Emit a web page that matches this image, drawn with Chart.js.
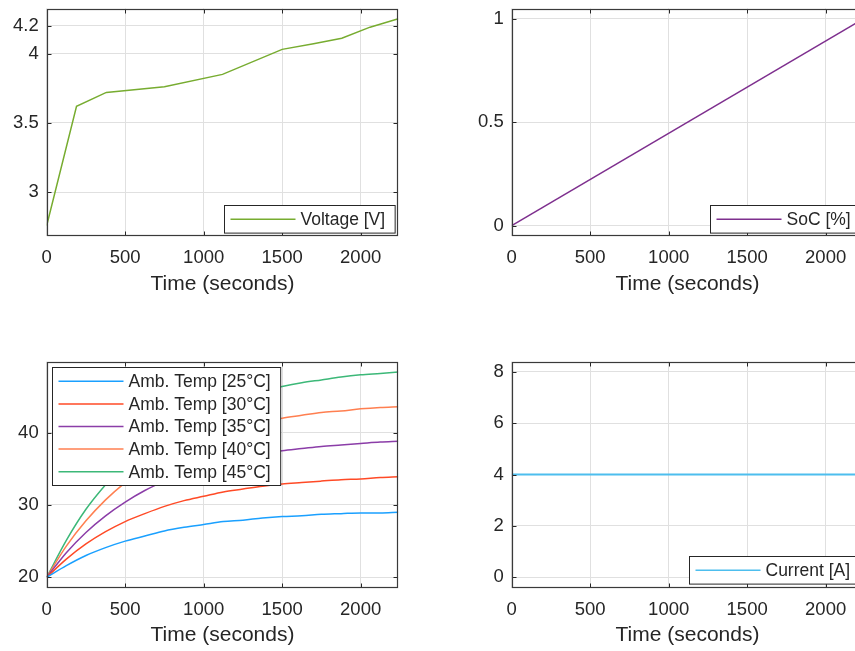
<!DOCTYPE html>
<html>
<head>
<meta charset="utf-8">
<title>Battery charging test</title>
<script src="https://cdn.jsdelivr.net/npm/chart.js@4.4.1/dist/chart.umd.min.js"></script>
<style>
  html, body { margin: 0; padding: 0; background: #fff; width: 855px; height: 651px; overflow: hidden; }
  .panel { position: absolute; }
  .panel canvas { display: block; }
</style>
</head>
<body>
<div class="panel" style="left:0px;top:0px"><canvas id="voltageChart" width="430" height="300"></canvas></div>
<div class="panel" style="left:430px;top:0px"><canvas id="socChart" width="440" height="300"></canvas></div>
<div class="panel" style="left:0px;top:300px"><canvas id="tempChart" width="430" height="351"></canvas></div>
<div class="panel" style="left:430px;top:300px"><canvas id="currentChart" width="440" height="351"></canvas></div>
<script>
// ---- data ----
const timeTicks = [0, 500, 1000, 1500, 2000];
const timeMax = 2240;

const voltageTime = [0, 190, 380, 750, 1120, 1500, 1700, 1880, 2060, 2240];
const voltage     = [2.76, 3.62, 3.72, 3.76, 3.85, 4.03, 4.07, 4.11, 4.19, 4.25];
const voltageTicks = [3, 3.5, 4, 4.2];

const socTime = [0, 2240];
const soc     = [0, 1];
const socTicks = [0, 0.5, 1];

const tempTime = [0, 125, 250, 375, 500, 625, 750, 875, 1000, 1125, 1250, 1375, 1500, 1625, 1750, 1875, 2000, 2125, 2240];
const temp25 = [20.0, 21.6, 23.0, 24.1, 25.0, 25.7, 26.4, 26.9, 27.3, 27.7, 27.9, 28.2, 28.4, 28.5, 28.7, 28.8, 28.9, 28.9, 29.0];
const temp30 = [20.0, 22.5, 24.6, 26.3, 27.7, 28.8, 29.8, 30.6, 31.2, 31.8, 32.2, 32.6, 32.9, 33.1, 33.3, 33.5, 33.6, 33.8, 33.9];
const temp35 = [20.0, 23.4, 26.2, 28.5, 30.4, 32.0, 33.3, 34.4, 35.2, 36.0, 36.6, 37.1, 37.5, 37.8, 38.1, 38.3, 38.5, 38.7, 38.8];
const temp40 = [20.0, 24.3, 27.8, 30.7, 33.1, 35.1, 36.7, 38.1, 39.2, 40.1, 40.8, 41.5, 42.0, 42.4, 42.8, 43.0, 43.3, 43.5, 43.6];
const temp45 = [20.0, 25.1, 29.4, 32.8, 35.7, 38.1, 40.1, 41.7, 43.0, 44.1, 45.0, 45.8, 46.4, 46.9, 47.3, 47.7, 48.0, 48.2, 48.4];
const tempLabels = ['Amb. Temp [25°C]', 'Amb. Temp [30°C]', 'Amb. Temp [35°C]', 'Amb. Temp [40°C]', 'Amb. Temp [45°C]'];
const tempTicks = [20, 30, 40];

const currentTime = [0, 2240];
const current     = [4, 4];
const currentTicks = [0, 2, 4, 6, 8];

// ---- styling ----
const FONT = '"Liberation Sans", Arial, Helvetica, sans-serif';
const INK = '#262626';
const GRID = '#e0e0e0';

const points = (xs, ys) => xs.map((x, i) => ({ x: x, y: ys[i] }));

// Box outline with inward tick marks on all four sides
const framePlugin = {
  id: 'axesBox',
  afterDatasetsDraw(chart) {
    const { ctx, chartArea: a, scales } = chart;
    const L = Math.round(a.left) + 0.5, R = Math.round(a.right) - 0.5;
    const T = Math.round(a.top) + 0.5, B = Math.round(a.bottom) - 0.5;
    const tl = 4;
    ctx.save();
    ctx.strokeStyle = INK;
    ctx.lineWidth = 1;
    ctx.beginPath();
    scales.x.ticks.forEach(t => {
      const px = Math.round(scales.x.getPixelForValue(t.value)) + 0.5;
      ctx.moveTo(px, B); ctx.lineTo(px, B - tl);
      ctx.moveTo(px, T); ctx.lineTo(px, T + tl);
    });
    scales.y.ticks.forEach(t => {
      const py = Math.round(scales.y.getPixelForValue(t.value)) + 0.5;
      ctx.moveTo(L, py); ctx.lineTo(L + tl, py);
      ctx.moveTo(R, py); ctx.lineTo(R - tl, py);
    });
    ctx.stroke();
    ctx.strokeStyle = '#3a3a3a';
    ctx.lineWidth = 1.2;
    ctx.strokeRect(L, T, R - L, B - T);
    ctx.restore();
  }
};

// Framed legend drawn inside the plot area
const boxLegendPlugin = {
  id: 'boxLegend',
  afterDraw(chart, args, opts) {
    const { ctx, chartArea: a } = chart;
    const sets = chart.data.datasets;
    const rowH = 22.6;
    ctx.save();
    ctx.font = '17.5px ' + FONT;
    const textW = Math.max(...sets.map(d => ctx.measureText(d.label).width));
    const w = 76 + textW + 10;
    const h = sets.length * rowH + 5;
    let x, y;
    if (opts.corner === 'nw') { x = a.left + 5; y = a.top + 5; }
    else { x = a.right - 3.5 - w; y = a.bottom - 3.5 - h; }
    x = Math.round(x) + 0.5; y = Math.round(y) + 0.5;
    ctx.fillStyle = '#ffffff';
    ctx.fillRect(x, y, w, h);
    ctx.strokeStyle = INK;
    ctx.lineWidth = 1;
    ctx.strokeRect(x, y, w, h);
    sets.forEach((d, i) => {
      const cy = y + 2.5 + rowH * (i + 0.5);
      ctx.strokeStyle = d.borderColor;
      ctx.lineWidth = 1.5;
      ctx.beginPath();
      ctx.moveTo(x + 6, cy); ctx.lineTo(x + 71, cy);
      ctx.stroke();
      ctx.fillStyle = INK;
      ctx.textBaseline = 'middle';
      ctx.textAlign = 'left';
      ctx.fillText(d.label, x + 76, cy + 1);
    });
    ctx.restore();
  }
};

function makePanel(id, geom, datasets, yRange, yTicks, corner) {
  const canvas = document.getElementById(id);
  const cw = canvas.width, ch = canvas.height;
  const yAxisW = geom.left;
  const xAxisH = ch - geom.bottom;
  return new Chart(canvas, {
    type: 'line',
    data: { datasets: datasets },
    plugins: [framePlugin, boxLegendPlugin],
    options: {
      responsive: false,
      animation: false,
      devicePixelRatio: 1,
      events: [],
      layout: { padding: { left: 0, top: geom.top, right: cw - geom.right, bottom: 0 } },
      elements: { point: { radius: 0 }, line: { tension: 0 } },
      plugins: {
        legend: { display: false },
        tooltip: { enabled: false },
        boxLegend: { corner: corner }
      },
      scales: {
        x: {
          type: 'linear',
          min: 0, max: timeMax,
          afterBuildTicks: s => { s.ticks = timeTicks.map(v => ({ value: v })); },
          afterFit: s => { s.height = xAxisH; s.paddingLeft = 0; s.paddingRight = 0; },
          grid: { color: GRID, lineWidth: 1, drawTicks: false },
          border: { display: false },
          ticks: { color: INK, font: { family: FONT, size: 18.5 }, padding: 11, maxRotation: 0, callback: v => String(v) },
          title: { display: true, text: 'Time (seconds)', color: INK, font: { family: FONT, size: 21 }, padding: { top: 0, bottom: 3 } }
        },
        y: {
          type: 'linear',
          min: yRange[0], max: yRange[1],
          afterBuildTicks: s => { s.ticks = yTicks.map(v => ({ value: v })); },
          afterFit: s => { s.width = yAxisW; s.paddingTop = 0; s.paddingBottom = 0; },
          grid: { color: GRID, lineWidth: 1, drawTicks: false },
          border: { display: false },
          ticks: { color: INK, font: { family: FONT, size: 18.5 }, padding: 8, callback: v => String(v) }
        }
      }
    }
  });
}

const line = (label, xs, ys, color, width) => ({
  label: label, data: points(xs, ys), borderColor: color, backgroundColor: color,
  borderWidth: width || 1.5, fill: false, cubicInterpolationMode: 'default'
});

makePanel('voltageChart', { left: 46.7, top: 8.5, right: 398.3, bottom: 236 },
  [line('Voltage [V]', voltageTime, voltage, '#77AC30')],
  [2.6855, 4.3245], voltageTicks, 'se');

makePanel('socChart', { left: 81.7, top: 8.5, right: 433.3, bottom: 236 },
  [line('SoC [%]', socTime, soc, '#7E2F8E')],
  [-0.05, 1.05], socTicks, 'se');

const tempColors = ['#1AA0FF', '#FF4A26', '#8B3DA8', '#FF7F50', '#3CB878'];
const tempSeries = [temp25, temp30, temp35, temp40, temp45];
const tempSets = tempSeries.map((ys, i) => {
  const d = line(tempLabels[i], tempTime, ys, tempColors[i]);
  d.cubicInterpolationMode = 'monotone';
  return d;
});
makePanel('tempChart', { left: 46.7, top: 61.7, right: 398.3, bottom: 287.5 },
  tempSets, [18.58, 49.82], tempTicks, 'nw');

makePanel('currentChart', { left: 81.7, top: 61.7, right: 433.3, bottom: 287.5 },
  [line('Current [A]', currentTime, current, '#4DBEEE', 2)],
  [-0.4, 8.4], currentTicks, 'se');
</script>
</body>
</html>
